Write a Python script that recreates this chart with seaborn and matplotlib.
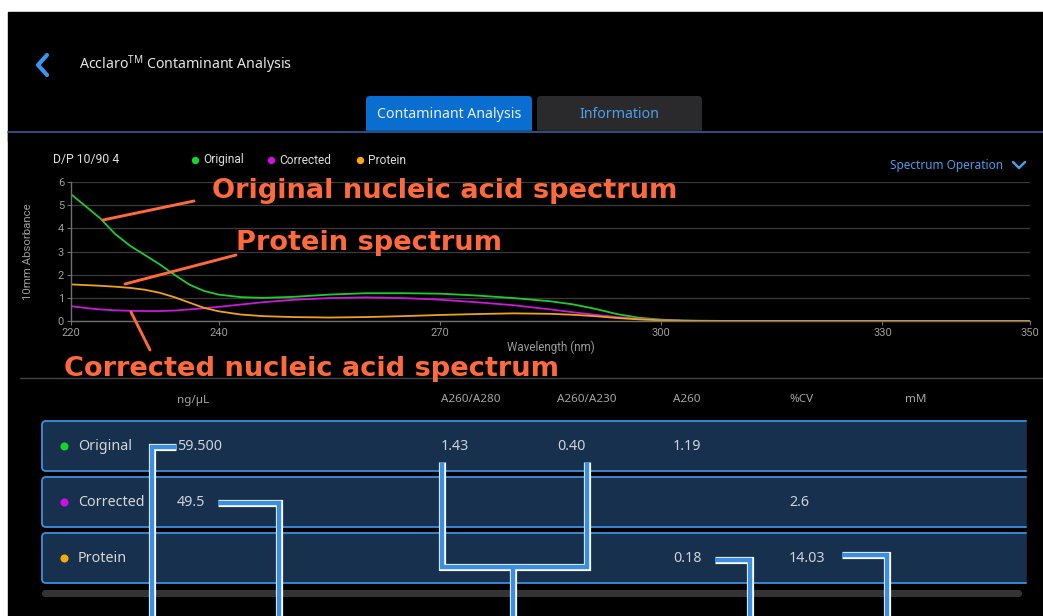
import numpy as np
import pandas as pd
import matplotlib.pyplot as plt
import seaborn as sns
from matplotlib.patches import FancyBboxPatch, Rectangle

# spectrum values (nm -> 10mm absorbance)
wavelength = [220, 222, 224, 226, 228, 230, 232, 234, 236, 238, 240, 243, 246, 250,
              255, 260, 265, 270, 275, 280, 285, 288, 291, 294, 297, 300, 303, 306,
              310, 320, 330, 340, 350]
original = [5.47, 4.95, 4.42, 3.75, 3.25, 2.85, 2.45, 2.00, 1.58, 1.30, 1.14, 1.03, 1.00, 1.04,
            1.14, 1.20, 1.20, 1.18, 1.10, 0.99, 0.85, 0.72, 0.53, 0.30, 0.14, 0.06, 0.02, 0.01,
            0.0, 0.0, 0.0, 0.0, 0.0]
corrected = [0.64, 0.56, 0.50, 0.46, 0.44, 0.43, 0.43, 0.45, 0.50, 0.55, 0.61, 0.71, 0.81, 0.91,
             0.99, 1.02, 0.99, 0.92, 0.81, 0.68, 0.50, 0.38, 0.27, 0.17, 0.09, 0.04, 0.01, 0.0,
             0.0, 0.0, 0.0, 0.0, 0.0]
protein = [1.58, 1.55, 1.52, 1.48, 1.43, 1.35, 1.22, 1.03, 0.80, 0.57, 0.42, 0.28, 0.21, 0.17,
           0.15, 0.17, 0.21, 0.26, 0.30, 0.33, 0.31, 0.27, 0.21, 0.13, 0.07, 0.03, 0.01, 0.0,
           0.0, 0.0, 0.0, 0.0, 0.0]

series_names = ["Original", "Corrected", "Protein"]
series_colors = ["#1fcc2e", "#c81ad8", "#f0a21a"]
dot_colors = ["#14d62a", "#d20ee6", "#f9a90c"]
x_ticks = [220, 240, 270, 300, 330, 350]
y_ticks = [0, 1, 2, 3, 4, 5, 6]

# results table
col_headers = ["ng/\u00b5L", "A260/A280", "A260/A230", "A260", "%CV", "mM"]
table_values = [
    ["59.500", "1.43", "0.40", "1.19", "", ""],
    ["49.5", "", "", "", "2.6", ""],
    ["", "", "", "0.18", "14.03", ""],
]

callouts = ["Original nucleic acid spectrum", "Protein spectrum",
            "Corrected nucleic acid spectrum"]

W, H = 1043, 616
UI_FONT = ["Noto Sans", "DejaVu Sans"]
CHART_FONT = ["Roboto", "DejaVu Sans"]

sns.set_theme(style="dark")
plt.rcParams["font.family"] = UI_FONT
plt.rcParams["mathtext.fontset"] = "custom"
plt.rcParams["mathtext.rm"] = "Noto Sans"


def pixel_axes(fig, z):
    a = fig.add_axes([0, 0, 1, 1], zorder=z)
    a.set_xlim(0, W)
    a.set_ylim(H, 0)
    a.axis("off")
    a.patch.set_visible(False)
    return a


def double_line(a, xs, ys):
    a.plot(xs, ys, color="white", lw=5.2, solid_capstyle="butt", solid_joinstyle="miter", zorder=6)
    a.plot(xs, ys, color="#3a8fe2", lw=3.2, solid_capstyle="butt", solid_joinstyle="miter", zorder=7)


fig = plt.figure(figsize=(W / 100, H / 100), dpi=100, facecolor="white")

ui = pixel_axes(fig, 0)
ui.add_patch(Rectangle((8, 12), W - 8, H - 12, color="black", zorder=0))

# header
ui.plot([47, 38, 47], [55, 65, 75], color="#3a95f0", lw=3, solid_capstyle="round", zorder=2)
ui.text(79, 65, r"Acclaro$^{\mathrm{TM}}$ Contaminant Analysis", color="#e6e6e6",
        fontsize=10.2, va="center", ha="left")

# tabs
ui.add_patch(FancyBboxPatch((366, 96), 166, 38, boxstyle="round,pad=0,rounding_size=4",
                            fc="#0a6ed1", ec="none", zorder=1))
ui.add_patch(FancyBboxPatch((537, 96), 165, 38, boxstyle="round,pad=0,rounding_size=4",
                            fc="#2a2a2c", ec="none", zorder=1))
ui.add_patch(Rectangle((8, 131), W - 8, 10, color="black", zorder=1.5))
ui.text(449, 114, "Contaminant Analysis", color="#e8f1ff", fontsize=10.2, ha="center", va="center", zorder=2)
ui.text(619, 114, "Information", color="#4d9fe8", fontsize=10.2, ha="center", va="center", zorder=2)
ui.plot([8, W], [132, 132], color="#2d5f9e", lw=1.2, zorder=2)

# chart header: sample name, legend, menu
ui.text(53, 160, "D/P 10/90 4", color="#e0e0e0", fontsize=8.8, family=CHART_FONT, va="center")
legend_x = [195, 271, 360]
for lx, name, c in zip(legend_x, series_names, dot_colors):
    ui.scatter([lx], [160], s=28, color=c, zorder=3, linewidths=0)
    ui.text(lx + 8, 160, name, color="#dcdcdc", fontsize=8.6, family=CHART_FONT, va="center")
ui.text(890, 165, "Spectrum Operation", color="#4a9de8", fontsize=8.5, va="center")
ui.plot([1013, 1019, 1025], [162, 168, 162], color="#4a9de8", lw=1.8, zorder=2)

# spectrum chart
ax = fig.add_axes([71 / W, 1 - 321 / H, (1030 - 71) / W, (321 - 182) / H], zorder=2)
ax.patch.set_visible(False)
df = pd.DataFrame({
    "wavelength": wavelength * 3,
    "absorbance": original + corrected + protein,
    "series": sum([[n] * len(wavelength) for n in series_names], []),
})
sns.lineplot(data=df, x="wavelength", y="absorbance", hue="series", hue_order=series_names,
             palette=dict(zip(series_names, series_colors)), linewidth=1.3, legend=False, ax=ax)
ax.set_xlim(220, 350)
ax.set_ylim(0, 6)
ax.set_xticks(x_ticks)
ax.set_yticks(y_ticks)
ax.yaxis.grid(True, color="#3a3a3a", lw=0.9)
ax.xaxis.grid(False)
ax.set_axisbelow(True)
for side in ["top", "right"]:
    ax.spines[side].set_visible(False)
for side in ["left", "bottom"]:
    ax.spines[side].set_visible(True)
    ax.spines[side].set_color("#707070")
    ax.spines[side].set_linewidth(1)
ax.tick_params(axis="both", colors="#707070", labelcolor="#9c9c9c", labelsize=8,
               length=3, width=0.8, pad=2, left=True, bottom=True)
for lab in ax.get_xticklabels() + ax.get_yticklabels():
    lab.set_family(CHART_FONT)
ax.set_xlabel("Wavelength (nm)", color="#9c9c9c", fontsize=8.4, family=CHART_FONT)
ax.set_ylabel("10mm Absorbance", color="#9c9c9c", fontsize=8.2, family=CHART_FONT)
ax.xaxis.set_label_coords(0.5, -0.14)
ax.yaxis.set_label_coords(-0.04, 0.5)

ui.plot([20, W], [378, 378], color="#444444", lw=1, zorder=1)

# table
col_x = [177, 441, 557, 673, 789, 905]
for cx, head in zip(col_x, col_headers):
    ui.text(cx, 400, head, color="#a4a4a4", fontsize=8.4, va="center")
row_top = [421, 477, 533]
for i, top_y in enumerate(row_top):
    ui.add_patch(FancyBboxPatch((42, top_y), 1010, 50, boxstyle="round,pad=0,rounding_size=4",
                                fc="#16304e", ec="#3d8fe0", lw=1.3, zorder=2))
    cy = top_y + 25
    ui.scatter([64], [cy], s=34, color=dot_colors[i], linewidths=0, zorder=3)
    ui.text(78, cy, series_names[i], color="#d6d6d6", fontsize=10.3, va="center", zorder=3)
    for cx, v in zip(col_x, table_values[i]):
        ui.text(cx, cy, v, color="#cfd3d8", fontsize=10.3, va="center", zorder=3)
# rows are cut off by the screen's right edge
ui.add_patch(Rectangle((1027, 400), W - 1027, 200, color="black", zorder=4))
ui.add_patch(FancyBboxPatch((42, 590), 980, 7, boxstyle="round,pad=0,rounding_size=3.5",
                            fc="#333333", ec="none", zorder=2))

# annotations on top
top = pixel_axes(fig, 5)
orange = "#ff6a3c"
top.plot([103, 194], [220, 201], color=orange, lw=2.1, solid_capstyle="round")
top.plot([125, 236], [284, 255], color=orange, lw=2.1, solid_capstyle="round")
top.plot([131, 150], [312, 350], color=orange, lw=2.1, solid_capstyle="round")
for (tx, ty), txt in zip([(212, 191), (236, 243), (64, 369)], callouts):
    top.text(tx, ty, txt, color=orange, fontsize=19.6, fontweight="bold",
             family=["DejaVu Sans"], va="center", ha="left", zorder=8)

# value connectors
double_line(top, [176, 152, 152], [447, 447, H])
double_line(top, [218, 279, 279], [503, 503, H])
double_line(top, [442, 442, 587, 587], [462, 567, 567, 462])
double_line(top, [513, 513], [567, H])
double_line(top, [715, 750, 750], [560, 560, H])
double_line(top, [842, 887, 887], [555, 555, H])

fig.savefig("out.png", dpi=100, facecolor="white")
